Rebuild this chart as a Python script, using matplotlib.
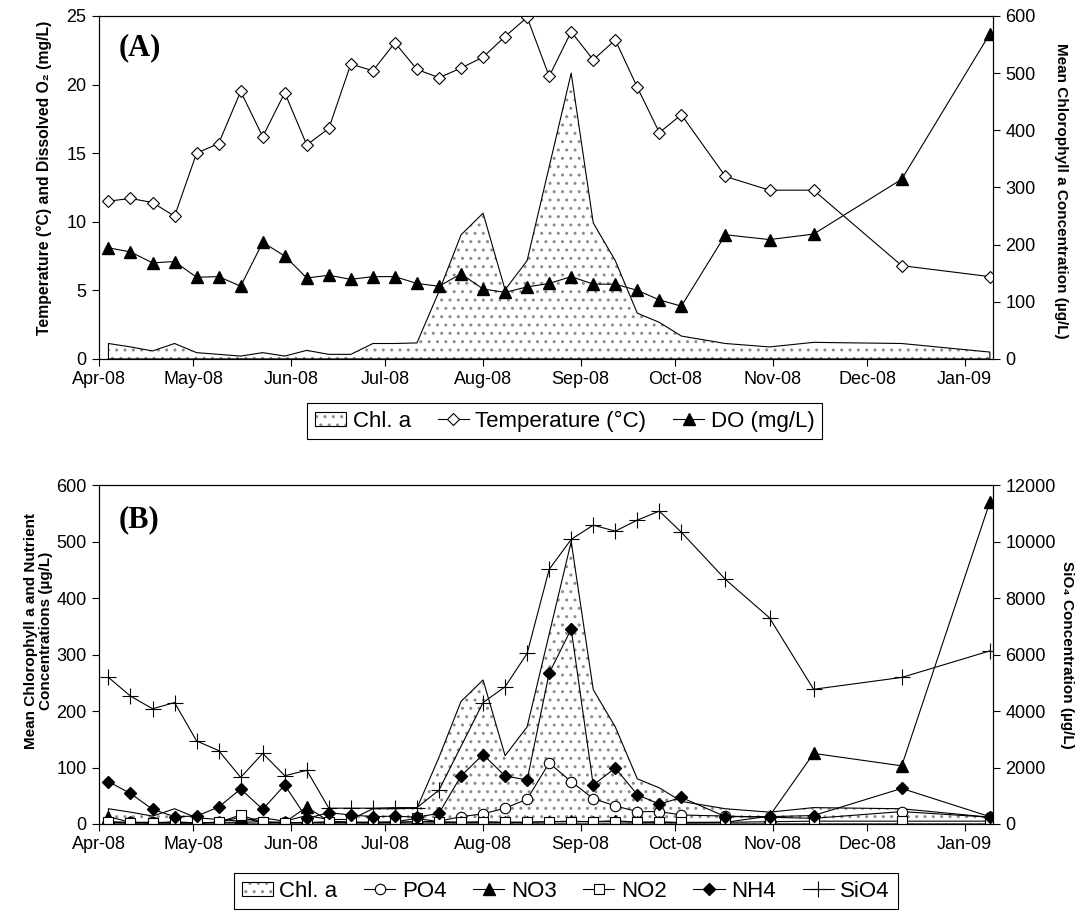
import datetime as dt
import matplotlib
matplotlib.use("Agg")
import matplotlib.pyplot as plt
import matplotlib.dates as mdates
from matplotlib.patches import Patch
from matplotlib.lines import Line2D

plt.rcParams['font.family'] = ['Liberation Sans', 'DejaVu Sans']
plt.rcParams['hatch.linewidth'] = 1.0

# sampling dates
dates = ['2008-04-04', '2008-04-11', '2008-04-18', '2008-04-25', '2008-05-02', '2008-05-09',
         '2008-05-16', '2008-05-23', '2008-05-30', '2008-06-06', '2008-06-13', '2008-06-20',
         '2008-06-27', '2008-07-04', '2008-07-11', '2008-07-18', '2008-07-25', '2008-08-01',
         '2008-08-08', '2008-08-15', '2008-08-22', '2008-08-29', '2008-09-05', '2008-09-12',
         '2008-09-19', '2008-09-26', '2008-10-03', '2008-10-17', '2008-10-31', '2008-11-14',
         '2008-12-12', '2009-01-09']

chl = [27, 21, 14, 27, 11, 8, 5, 11, 5, 15, 8, 8, 27, 27, 28, 118, 217, 255, 121, 172,
       336, 500, 238, 172, 80, 64, 40, 27, 21, 29, 27, 12]
temp = [11.5, 11.7, 11.4, 10.4, 15.0, 15.7, 19.5, 16.2, 19.4, 15.6, 16.8, 21.5, 21.0, 23.05,
        21.1, 20.5, 21.2, 22.0, 23.5, 24.9, 20.6, 23.85, 21.8, 23.25, 19.8, 16.5, 17.8, 13.3,
        12.3, 12.3, 6.8, 6.0]
do = [8.1, 7.8, 7.0, 7.1, 5.95, 6.0, 5.3, 8.5, 7.5, 5.9, 6.1, 5.8, 6.0, 6.0, 5.5, 5.3, 6.2,
      5.1, 4.85, 5.25, 5.5, 6.0, 5.45, 5.45, 5.0, 4.3, 3.85, 9.05, 8.7, 9.1, 13.1, 23.7]

po4 = [4, 3, 3, 2, 2, 3, 3, 4, 3, 2, 4, 3, 3, 3, 4, 5, 13, 18, 28, 44, 108, 75, 45, 32, 22,
       22, 16, 14, 12, 10, 22, 12]
no3 = [13, 3, 2, 4, 2, 3, 12, 2, 3, 30, 5, 3, 2, 3, 4, 3, 3, 4, 3, 3, 4, 5, 4, 6, 3, 4, 2,
       3, 14, 125, 103, 570]
no2 = [3, 2, 2, 2, 2, 3, 16, 3, 2, 3, 3, 3, 3, 4, 10, 4, 3, 3, 3, 3, 4, 4, 4, 4, 3, 3, 3, 3,
       4, 5, 5, 5]
nh4 = [75, 54, 26, 13, 14, 30, 62, 26, 69, 10, 20, 16, 13, 14, 12, 19, 85, 123, 85, 78, 267,
       345, 69, 99, 52, 35, 47, 13, 13, 15, 63, 13]
# no silicate sample on 25 Jul
sio4 = [5190, 4530, 4080, 4300, 2940, 2600, 1650, 2500, 1710, 1900, 560, 560, 560, 580, 580,
        1200, None, 4300, 4860, 6040, 9015, 10080, 10580, 10370, 10760, 11080, 10330, 8660,
        7300, 4770, 5190, 6130]

x = [dt.datetime.strptime(d, '%Y-%m-%d') for d in dates]
xmin = dt.datetime(2008, 4, 1)
xmax = dt.datetime(2009, 1, 10)

TFS = 13
LFS = 16
LW = 0.8
HATCH_C = '#8c8c8c'


def chl_area(axis):
    axis.fill_between(x, 0, chl, facecolor='white', edgecolor=HATCH_C, hatch='..',
                      linewidth=0, zorder=1)
    axis.fill_between(x, 0, chl, facecolor='none', edgecolor='black', linewidth=LW, zorder=2)


def style(axis):
    axis.set_xlim(xmin, xmax)
    axis.xaxis.set_major_locator(mdates.MonthLocator())
    axis.xaxis.set_major_formatter(mdates.DateFormatter('%b-%y'))
    axis.tick_params(direction='out', length=5, width=LW, labelsize=TFS, pad=4)
    for s in axis.spines.values():
        s.set_linewidth(LW)


def make_legend(axis, handles, labels, anchor, ncol):
    leg = axis.legend(handles, labels, loc='center', bbox_to_anchor=anchor, ncol=ncol,
                      fontsize=LFS, frameon=True, fancybox=False, edgecolor='black',
                      framealpha=1, handlelength=1.4, handleheight=0.6, columnspacing=1.2,
                      handletextpad=0.3, borderpad=0.35, borderaxespad=0)
    leg.get_frame().set_linewidth(LW)
    return leg


chl_handle = (Patch(facecolor='white', edgecolor=HATCH_C, hatch='..', linewidth=0),
              Patch(facecolor='none', edgecolor='black', linewidth=LW))

fig = plt.figure(figsize=(10.81, 9.11), dpi=100)

# ---------------- panel A
ax1 = fig.add_axes([0.0916, 0.606, 0.827, 0.3765])
ax1r = ax1.twinx()
chl_area(ax1r)
ax1r.set_ylim(0, 600)
ax1r.set_yticks(range(0, 601, 100))
ax1.set_zorder(ax1r.get_zorder() + 1)
ax1.patch.set_visible(False)

ax1.plot(x, temp, color='black', lw=LW, marker='D', ms=6, mfc='white', mec='black', mew=0.8)
ax1.plot(x, do, color='black', lw=LW, marker='^', ms=8.5, mfc='black', mec='black')
ax1.set_ylim(0, 25)
ax1.set_yticks(range(0, 26, 5))
style(ax1)
style(ax1r)
ax1.set_ylabel('Temperature (°C) and Dissolved O₂ (mg/L)', fontsize=11.3, fontweight='bold')
ax1.yaxis.set_label_coords(-0.053, 0.529)
ax1r.set_ylabel('Mean Chlorophyll a Concentration (µg/L)', fontsize=11, fontweight='bold',
                rotation=270, va='center')
ax1r.yaxis.set_label_coords(1.076, 0.491)
ax1.text(0.022, 0.95, '(A)', transform=ax1.transAxes, family='Liberation Serif',
         fontweight='bold', fontsize=22, va='top', ha='left')

hA = [chl_handle,
      Line2D([], [], color='black', lw=LW, marker='D', ms=6, mfc='white', mec='black', mew=0.8),
      Line2D([], [], color='black', lw=LW, marker='^', ms=8.5, mfc='black')]
make_legend(ax1, hA, ['Chl. a', 'Temperature (°C)', 'DO (mg/L)'], (0.521, -0.181), 3)

# ---------------- panel B
ax2 = fig.add_axes([0.0916, 0.0955, 0.827, 0.372])
ax2r = ax2.twinx()
chl_area(ax2)
ax2.plot(x, po4, color='black', lw=LW, marker='o', ms=7.5, mfc='white', mec='black', mew=0.8)
ax2.plot(x, no3, color='black', lw=LW, marker='^', ms=8.5, mfc='black', mec='black')
ax2.plot(x, no2, color='black', lw=LW, marker='s', ms=6.5, mfc='white', mec='black', mew=0.8)
ax2.plot(x, nh4, color='black', lw=LW, marker='D', ms=6, mfc='black', mec='black')
xs = [d for d, v in zip(x, sio4) if v is not None]
ys = [v for v in sio4 if v is not None]
ax2r.plot(xs, ys, color='black', lw=LW, marker='+', ms=11, mew=0.8)
ax2.set_ylim(0, 600)
ax2.set_yticks(range(0, 601, 100))
ax2r.set_ylim(0, 12000)
ax2r.set_yticks(range(0, 12001, 2000))
style(ax2)
style(ax2r)
ax2.set_ylabel('Mean Chlorophyll a and Nutrient\nConcentrations (µg/L)', fontsize=11,
               fontweight='bold', linespacing=1.05)
ax2.yaxis.set_label_coords(-0.052, 0.57)
ax2r.set_ylabel('SiO₄ Concentration (µg/L)', fontsize=11, fontweight='bold',
                rotation=270, va='center')
ax2r.yaxis.set_label_coords(1.083, 0.5)
ax2.text(0.022, 0.941, '(B)', transform=ax2.transAxes, family='Liberation Serif',
         fontweight='bold', fontsize=22, va='top', ha='left')

hB = [chl_handle,
      Line2D([], [], color='black', lw=LW, marker='o', ms=7.5, mfc='white', mew=0.8),
      Line2D([], [], color='black', lw=LW, marker='^', ms=8.5, mfc='black'),
      Line2D([], [], color='black', lw=LW, marker='s', ms=6.5, mfc='white', mew=0.8),
      Line2D([], [], color='black', lw=LW, marker='D', ms=6, mfc='black'),
      Line2D([], [], color='black', lw=LW, marker='+', ms=11, mew=0.8)]
make_legend(ax2r, hB, ['Chl. a', 'PO4', 'NO3', 'NO2', 'NH4', 'SiO4'], (0.522, -0.198), 6)

fig.savefig('out.png', dpi=100)
